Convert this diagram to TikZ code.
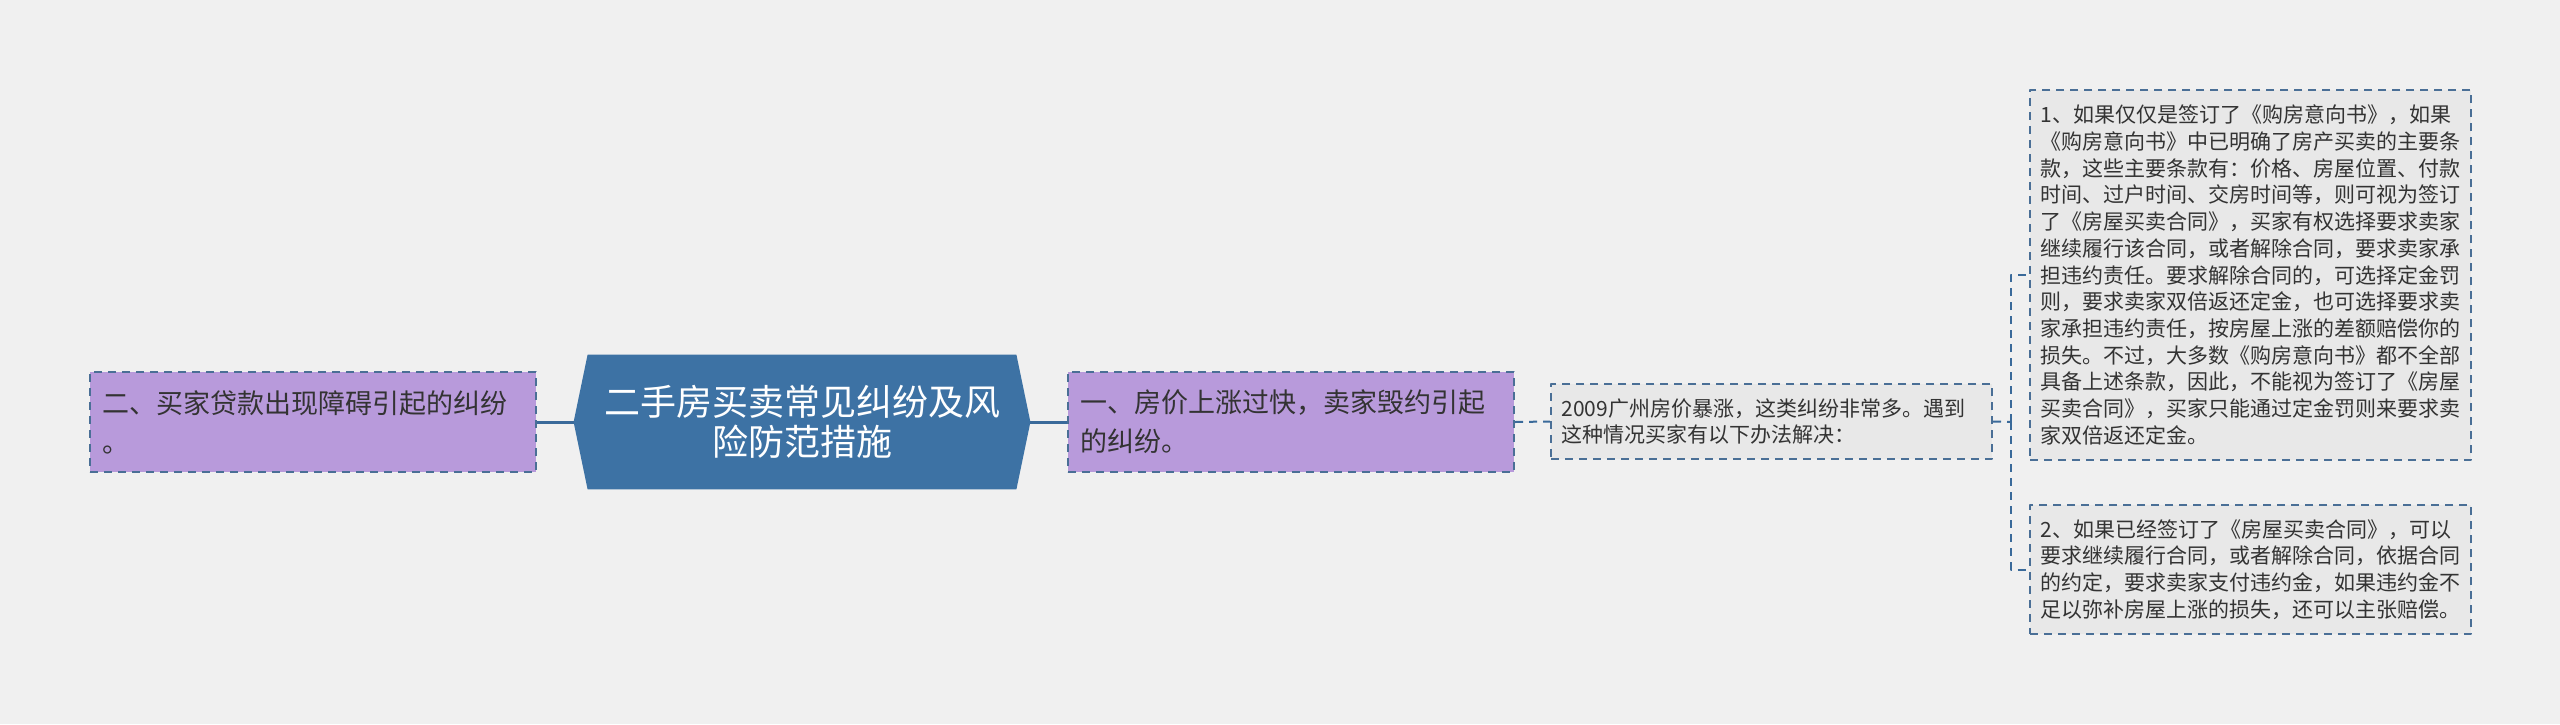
\documentclass[tikz,border=0pt]{standalone}
\usepackage{fontspec}
\setmainfont{Noto Sans CJK SC}
\usetikzlibrary{backgrounds}
\definecolor{canvas}{HTML}{F0F0F0}
\definecolor{hub}{HTML}{3D72A4}
\definecolor{lilac}{HTML}{B89ADB}
\definecolor{leaf}{HTML}{E8E8E8}
\definecolor{edge}{HTML}{4A6F96}
\definecolor{link}{HTML}{3A6A9A}
\definecolor{ink}{HTML}{333333}
\tikzset{
  every picture/.style={line join=round},
  frame/.style={draw=edge, line width=1pt, dash pattern=on 4pt off 3pt,
    align=left, text=ink, inner ysep=2pt, anchor=center},
  branch/.style={frame, fill=lilac, font=\fontsize{13.5pt}{19.5pt}\selectfont,
    text width=211pt, inner xsep=6pt, minimum width=223pt, minimum height=50pt},
  note/.style={frame, fill=leaf, font=\fontsize{10.5pt}{13.35pt}\selectfont,
    text width=210pt, inner xsep=5.25pt, minimum width=220.5pt},
  hubtext/.style={text=white, align=center, font=\fontsize{18pt}{20pt}\selectfont,
    minimum width=228pt, minimum height=67pt, inner sep=0pt},
  trunk/.style={draw=link, line width=1.5pt},
  twig/.style={draw=link, line width=1pt, dash pattern=on 4pt off 3pt},
}

\begin{document}
\begin{tikzpicture}[x=0.5pt, y=-0.5pt]
  \begin{scope}[on background layer]
    \fill[canvas] (0,0) rectangle (2560,724);
  \end{scope}

  % ---------------- centre ----------------
  \node[hubtext] (title) at (802,422) {二手房买卖常见纠纷及风\\险防范措施};
  \begin{scope}[on background layer]
    \fill[hub] (title.west) -- ([xshift=7pt]title.north west) -- ([xshift=-7pt]title.north east)
      -- (title.east) -- ([xshift=-7pt]title.south east) -- ([xshift=7pt]title.south west) -- cycle;
  \end{scope}

  % ---------------- two branches ----------------
  \node[branch] (loan) at (313,422) {二、买家贷款出现障碍引起的纠纷\\。};
  \node[branch] (breach) at (1291,422) {一、房价上涨过快，卖家毁约引起\\的纠纷。};
  \draw[trunk] (title.west) -- (loan.east);
  \draw[trunk] (title.east) -- (breach.west);

  % ---------------- notes ----------------
  \node[note, minimum height=37.5pt] (intro) at (1771.5,421.5)
    {2009广州房价暴涨，这类纠纷非常多。遇到\\这种情况买家有以下办法解决：};
  \node[note, minimum height=185pt] (intent) at (2250.5,275) {
    1、如果仅仅是签订了《购房意向书》，如果\\
    《购房意向书》中已明确了房产买卖的主要条\\
    款，这些主要条款有：价格、房屋位置、付款\\
    时间、过户时间、交房时间等，则可视为签订\\
    了《房屋买卖合同》，买家有权选择要求卖家\\
    继续履行该合同，或者解除合同，要求卖家承\\
    担违约责任。要求解除合同的，可选择定金罚\\
    则，要求卖家双倍返还定金，也可选择要求卖\\
    家承担违约责任，按房屋上涨的差额赔偿你的\\
    损失。不过，大多数《购房意向书》都不全部\\
    具备上述条款，因此，不能视为签订了《房屋\\
    买卖合同》，买家只能通过定金罚则来要求卖\\
    家双倍返还定金。};
  \node[note, minimum height=64.5pt] (signed) at (2250.5,569.5) {
    2、如果已经签订了《房屋买卖合同》，可以\\
    要求继续履行合同，或者解除合同，依据合同\\
    的约定，要求卖家支付违约金，如果违约金不\\
    足以弥补房屋上涨的损失，还可以主张赔偿。};

  \coordinate (fork) at (2011,422);
  \draw[twig] (breach.east) -- (intro.west);
  \draw[twig] (intro.east) -- (fork);
  \draw[twig] (fork) |- (intent.west);
  \draw[twig] (fork) |- (signed.west);
\end{tikzpicture}
\end{document}
